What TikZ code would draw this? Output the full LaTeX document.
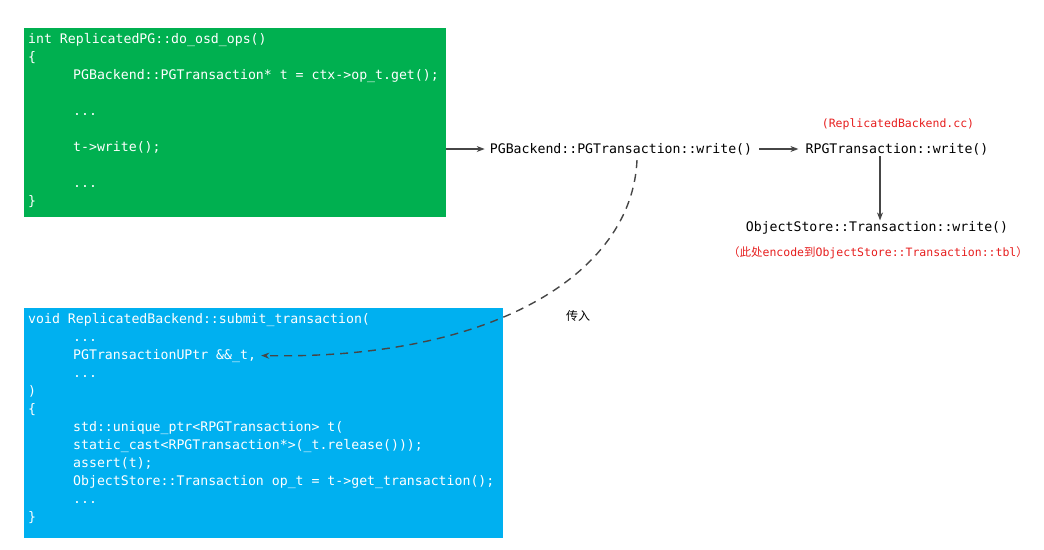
\documentclass[tikz,border=0pt]{standalone}
\usepackage{fontspec}
\newfontfamily\codefont{DejaVu Sans Mono}
\newfontfamily\cjk{Noto Sans CJK SC}
\usetikzlibrary{arrows.meta}
\definecolor{boxgreen}{RGB}{0,176,80}
\definecolor{boxblue}{RGB}{0,176,240}
\definecolor{notered}{RGB}{230,30,30}
\definecolor{arrgray}{RGB}{70,70,70}
\tikzset{
  code/.style={anchor=base west, inner sep=0pt, text=white, font=\codefont\fontsize{13.2}{18}\selectfont},
  call/.style={inner sep=1pt, font=\codefont\fontsize{13.2}{18}\selectfont},
  note/.style={inner sep=1pt, text=notered, font=\codefont\fontsize{11.5}{14}\selectfont},
  arr/.style={-{Stealth[length=8pt,width=6pt]}, arrgray, line width=1.2pt}
}
\begin{document}
\begin{tikzpicture}[x=1pt, y=-1pt]
        \useasboundingbox (0,0) rectangle (1044,549);

        % Green box: do_osd_ops
        \node[fill=boxgreen, minimum width=422pt, minimum height=189pt, inner sep=0pt] (gbox) at (235,122.5) {};
        \node[code] (g1) at (28,43) {int ReplicatedPG::do\_osd\_ops()};
        \node[code] (g2) at (28,61) {\{};
        \node[code] (g3) at (73,79) {PGBackend::PGTransaction* t = ctx->op\_t.get();};
        \node[code] (g4) at (73,115) {...};
        \node[code] (g5) at (73,151) {t->write();};
        \node[code] (g6) at (73,187) {...};
        \node[code] (g7) at (28,205) {\}};

        % Blue box: submit_transaction
        \node[fill=boxblue, minimum width=479pt, minimum height=230pt, inner sep=0pt] (bbox) at (263.5,423) {};
        \node[code] (b1) at (28,323) {void ReplicatedBackend::submit\_transaction(};
        \node[code] (b2) at (73,341) {...};
        \node[code] (ut) at (73,359) {PGTransactionUPtr \&\&\_t,};
        \node[code] (b4) at (73,377) {...};
        \node[code] (b5) at (28,395) {)};
        \node[code] (b6) at (28,413) {\{};
        \node[code] (b7) at (73,431) {std::unique\_ptr<RPGTransaction> t(};
        \node[code] (b8) at (73,449) {static\_cast<RPGTransaction*>(\_t.release()));};
        \node[code] (b9) at (73,467) {assert(t);};
        \node[code] (b10) at (73,485) {ObjectStore::Transaction op\_t = t->get\_transaction();};
        \node[code] (b11) at (73,503) {...};
        \node[code] (b12) at (28,521) {\}};

        % Call chain
        \node[call] (pgw) at (621,149) {PGBackend::PGTransaction::write()};
        \node[call] (rpg) at (897,149) {RPGTransaction::write()};
        \node[call] (osw) at (877,228) {ObjectStore::Transaction::write()};
        \node[note] (src) at (898,124) {(ReplicatedBackend.cc)};
        \node[note] (tbl) at (878,253) {{\cjk （此处}encode{\cjk 到}ObjectStore::Transaction::tbl{\cjk ）}};
        \node[font=\cjk\fontsize{12}{14}\selectfont, inner sep=1pt] (pass) at (578,316) {传入};

        % Arrows
        \draw[arr] (gbox.east |- pgw) -- ([xshift=-4pt]pgw.west);
        \draw[arr] ([xshift=6pt]pgw.east) -- ([xshift=-6pt]rpg.west);
        \draw[arr] ([xshift=-17pt]rpg.south) -- ([xshift=-17pt]rpg.south |- osw.north);
        \draw[arr, line width=1.4pt, dash pattern=on 8pt off 6pt] ([xshift=16pt, yshift=-4pt]pgw.south) .. controls (632,275) and (490,360) .. ([xshift=5pt]ut.east);

    \end{tikzpicture}
\end{document}
